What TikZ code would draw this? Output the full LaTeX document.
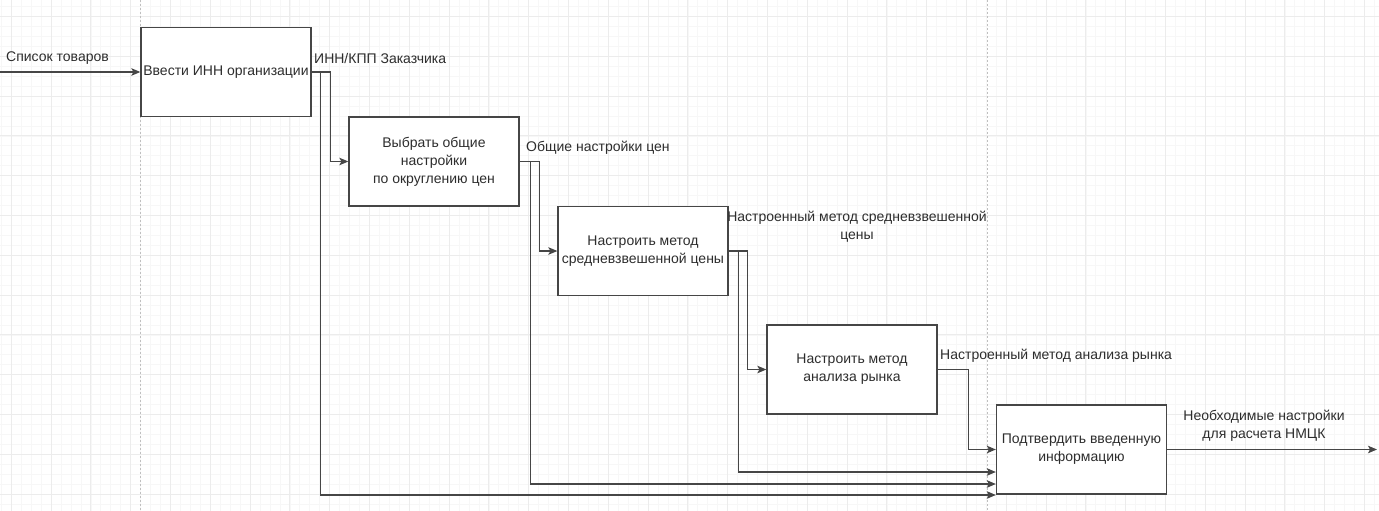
\documentclass[tikz,border=0pt]{standalone}
\usepackage{fontspec}
\setmainfont{Liberation Sans}
\usetikzlibrary{arrows.meta,calc}
\definecolor{gridminor}{RGB}{247,247,247}
\definecolor{gridmajor}{RGB}{236,236,236}
\definecolor{linecol}{RGB}{70,70,70}
\definecolor{txtcol}{RGB}{45,45,45}
\tikzset{
  procbox/.style={draw=linecol, line width=1.3pt, fill=white, minimum width=170pt, minimum height=89pt, align=center, inner sep=2pt, text=txtcol, font=\fontsize{14}{18}\selectfont},
  lbl/.style={text=txtcol, inner sep=1pt, align=center, font=\fontsize{14}{18}\selectfont},
  arr/.style={draw=linecol, line width=1.2pt, -{Stealth[length=9pt,width=7.5pt,inset=2pt]}},
  pagebrk/.style={draw=black!25, line width=0.6pt, dash pattern=on 2pt off 2pt}
}
\begin{document}
\begin{tikzpicture}[x=1pt,y=-1pt]
\useasboundingbox (0,0) rectangle (1379,511);
\fill[white] (0,0) rectangle (1379,511);
% grid
\foreach \i in {0,...,139} { \draw[gridminor, line width=0.6pt] ({1.25+\i*9.95},0) -- ({1.25+\i*9.95},511); }
\foreach \j in {0,...,52} { \draw[gridminor, line width=0.6pt] (0,{6.45+\j*9.95}) -- (1379,{6.45+\j*9.95}); }
\foreach \i in {0,...,35} { \draw[gridmajor, line width=0.9pt] ({11.2+\i*39.8},0) -- ({11.2+\i*39.8},511); }
\foreach \j in {0,...,13} { \draw[gridmajor, line width=0.9pt] (0,{16.4+\j*39.8}) -- (1379,{16.4+\j*39.8}); }
\draw[pagebrk] (140,0) -- (140,511);
\draw[pagebrk] (987,0) -- (987,511);

% boxes
\node[procbox] (b1) at (226,72) {Ввести ИНН организации};
\node[procbox] (b2) at (434,161.5) {Выбрать общие\\настройки\\по округлению цен};
\node[procbox] (b3) at (643,251) {Настроить метод\\средневзвешенной цены};
\node[procbox] (b4) at (852,369.5) {Настроить метод\\анализа рынка};
\node[procbox] (b5) at (1081.5,449.5) {Подтвердить введенную\\информацию};

% free ends
\coordinate (in) at (0,72);
\coordinate (out) at (1377,449.5);

% connectors
\draw[arr] (in) -- (b1.west);
\draw[arr] (b1.east) -- ++(19,0) |- (b2.west);
\draw[arr] (b1.east) -- ++(9,0) |- ([yshift=-45.5pt]b5.west);
\draw[arr] (b2.east) -- ++(20,0) |- (b3.west);
\draw[arr] (b2.east) -- ++(11,0) |- ([yshift=-34.5pt]b5.west);
\draw[arr] (b3.east) -- ++(19,0) |- (b4.west);
\draw[arr] (b3.east) -- ++(10,0) |- ([yshift=-22.5pt]b5.west);
\draw[arr] (b4.east) -- ++(31,0) |- (b5.west);
\draw[arr] (b5.east) -- (out);

% labels
\node[lbl, anchor=west] (l1) at (5,58) {Список товаров};
\node[lbl, anchor=west] (l2) at (313,58) {ИНН/КПП Заказчика};
\node[lbl, anchor=west] (l3) at (525,148) {Общие настройки цен};
\node[lbl] (l4) at (857,227) {Настроенный метод средневзвешенной\\цены};
\node[lbl, anchor=west] (l5) at (939,356) {Настроенный метод анализа рынка};
\node[lbl] (l6) at (1264,426) {Необходимые настройки\\для расчета НМЦК};
\end{tikzpicture}
\end{document}
